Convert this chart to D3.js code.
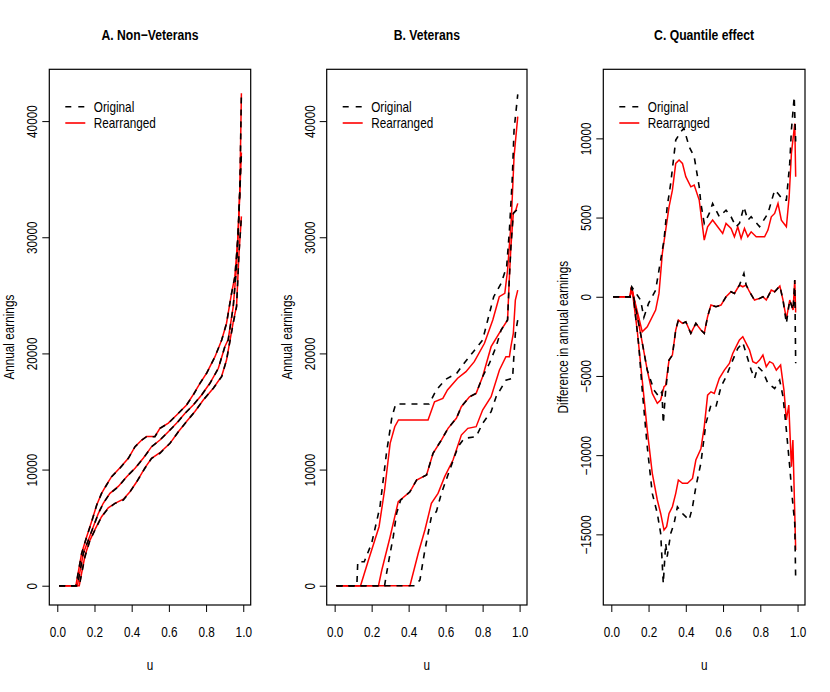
<!DOCTYPE html>
<html>
<head>
<meta charset="utf-8">
<script src="https://cdn.jsdelivr.net/npm/d3@7"></script>
<style>
  body { margin: 0; background: #fff; }
  text { font-family: "Liberation Sans", Arial, sans-serif; }
</style>
</head>
<body>
<div id="chart"></div>
<script>
// labels
const panelTitles = ["A. Non\u2212Veterans", "B. Veterans", "C. Quantile effect"];
const yLabels = ["Annual earnings", "Annual earnings", "Difference in annual earnings"];
const seriesNames = ["Original", "Rearranged"];
const uTicks = [0, 0.2, 0.4, 0.6, 0.8, 1.0];
const earnTicks = [0, 10000, 20000, 30000, 40000];
const effectTicks = [-15000, -10000, -5000, 0, 5000, 10000];

// A. non-veterans, [u, earnings] -- lower band, quantile curve, upper band
const nonvetOrigLow = [[0.01,0],[0.118,0],[0.149,2500],[0.176,3930],[0.203,4800],[0.238,5940],[0.274,6660],[0.31,7090],[0.355,7380],[0.391,8090],[0.427,8950],[0.471,10110],[0.507,10970],[0.552,11400],[0.606,12260],[0.651,13260],[0.695,14130],[0.74,14990],[0.785,15990],[0.839,17000],[0.884,18000],[0.91,19430],[0.946,22600],[0.964,24020],[0.977,28610],[0.99,31770]];
const nonvetOrigMid = [[0.01,0],[0.108,0],[0.14,2780],[0.167,3930],[0.194,5080],[0.221,6230],[0.247,7090],[0.283,7950],[0.328,8520],[0.373,9390],[0.418,10110],[0.463,10970],[0.507,11970],[0.552,12540],[0.597,13260],[0.642,13980],[0.687,14840],[0.731,15560],[0.776,16420],[0.821,17420],[0.866,18720],[0.901,20580],[0.919,21150],[0.946,24020],[0.964,27470],[0.979,32920],[0.99,37200]];
const nonvetOrigUp = [[0.01,0],[0.10,0],[0.131,2780],[0.158,4220],[0.185,5510],[0.212,6950],[0.238,7950],[0.265,8670],[0.292,9390],[0.337,10110],[0.382,10970],[0.418,11970],[0.454,12540],[0.48,12830],[0.525,12830],[0.552,13550],[0.597,13980],[0.642,14700],[0.695,15560],[0.731,16420],[0.767,17420],[0.803,18290],[0.848,19720],[0.884,21150],[0.91,22590],[0.937,25170],[0.955,26600],[0.973,30330],[0.982,34350],[0.99,42530]];
const nonvetRearLow = [[0.01,0],[0.118,0],[0.149,2600],[0.176,3930],[0.203,4850],[0.238,5940],[0.274,6700],[0.31,7090],[0.355,7450],[0.391,8090],[0.427,8950],[0.471,10150],[0.507,10970],[0.552,11450],[0.606,12260],[0.651,13260],[0.695,14130],[0.74,15000],[0.785,15990],[0.839,17000],[0.884,18050],[0.91,19430],[0.946,22700],[0.964,24100],[0.977,28610],[0.99,31800]];
const nonvetRearMid = [[0.01,0],[0.108,0],[0.14,2800],[0.167,3930],[0.194,5100],[0.221,6230],[0.247,7100],[0.283,7950],[0.328,8550],[0.373,9390],[0.418,10110],[0.463,11000],[0.507,11970],[0.552,12540],[0.597,13260],[0.642,14000],[0.687,14840],[0.731,15560],[0.776,16420],[0.821,17450],[0.866,18720],[0.901,20580],[0.919,21200],[0.946,24020],[0.964,27500],[0.979,32920],[0.99,37300]];
const nonvetRearUp = [[0.01,0],[0.10,0],[0.131,2800],[0.158,4220],[0.185,5550],[0.212,6950],[0.238,7950],[0.265,8700],[0.292,9390],[0.337,10150],[0.382,10970],[0.418,11970],[0.454,12540],[0.48,12850],[0.525,12850],[0.552,13550],[0.597,14000],[0.642,14700],[0.695,15560],[0.731,16450],[0.767,17420],[0.803,18300],[0.848,19720],[0.884,21150],[0.91,22600],[0.937,25170],[0.955,26650],[0.973,30330],[0.982,34400],[0.99,42400]];

// B. veterans
const vetOrigLow = [[0.01,0],[0.434,0],[0.461,490],[0.488,3080],[0.523,5940],[0.55,6380],[0.577,7950],[0.622,9960],[0.667,11960],[0.70,12680],[0.765,12830],[0.80,13980],[0.846,14980],[0.873,16270],[0.926,17700],[0.962,17860],[0.97,20010],[0.977,21720],[0.99,22880]];
const vetOrigMid = [[0.01,0],[0.27,0],[0.28,1000],[0.30,2790],[0.317,4220],[0.335,6230],[0.357,7380],[0.407,8090],[0.443,9100],[0.497,9530],[0.532,11400],[0.577,12540],[0.613,13550],[0.658,14410],[0.685,15410],[0.729,16270],[0.765,16560],[0.80,17990],[0.837,19150],[0.873,20580],[0.90,22010],[0.935,22880],[0.944,26320],[0.953,29190],[0.966,32060],[0.985,32350]];
const vetOrigUp = [[0.01,0],[0.12,0],[0.125,2070],[0.16,2070],[0.20,3650],[0.245,6800],[0.28,11400],[0.31,14550],[0.33,15640],[0.51,15640],[0.55,16850],[0.60,17770],[0.66,18290],[0.70,19150],[0.75,20150],[0.80,21150],[0.86,24880],[0.90,26030],[0.93,27470],[0.945,30620],[0.96,34930],[0.97,39230],[0.99,42300]];
const vetRearLow = [[0.01,0],[0.407,0],[0.452,2790],[0.488,4800],[0.523,7090],[0.559,7950],[0.595,9390],[0.64,10820],[0.685,12970],[0.72,13550],[0.765,13690],[0.80,15130],[0.846,16270],[0.891,18570],[0.926,19720],[0.945,19720],[0.953,20580],[0.966,21720],[0.977,24590],[0.99,25450]];
const vetRearMid = [[0.01,0],[0.237,0],[0.255,1350],[0.30,4220],[0.344,7240],[0.407,8090],[0.443,9100],[0.497,9530],[0.532,11400],[0.577,12540],[0.613,13550],[0.658,14410],[0.685,15410],[0.729,16270],[0.765,16560],[0.80,17990],[0.846,20580],[0.90,22010],[0.935,22880],[0.944,26320],[0.953,29190],[0.966,32060],[0.98,32350],[0.99,32920]];
const vetRearUp = [[0.01,0],[0.14,0],[0.18,2070],[0.24,5080],[0.27,8240],[0.30,12260],[0.325,13690],[0.345,14270],[0.505,14270],[0.54,15840],[0.585,16130],[0.61,16850],[0.665,17860],[0.71,18430],[0.755,19290],[0.81,20870],[0.855,22880],[0.89,24880],[0.92,25170],[0.935,27180],[0.955,31490],[0.97,36940],[0.99,40380]];

// C. quantile effect (veterans minus non-veterans)
const effOrigLow = [[0.01,0],[0.10,0],[0.121,-210],[0.148,-3150],[0.166,-5890],[0.193,-9470],[0.22,-12410],[0.247,-13680],[0.265,-14940],[0.279,-18100],[0.292,-15570],[0.30,-16410],[0.319,-14940],[0.337,-14310],[0.355,-13260],[0.382,-13680],[0.418,-14100],[0.436,-13260],[0.454,-12000],[0.481,-10500],[0.508,-7990],[0.535,-6840],[0.562,-6940],[0.589,-5680],[0.616,-5050],[0.652,-4000],[0.679,-3260],[0.706,-2900],[0.724,-3580],[0.751,-4630],[0.769,-5150],[0.787,-4420],[0.814,-4730],[0.841,-5470],[0.877,-5790],[0.904,-5260],[0.922,-6310],[0.94,-8420],[0.958,-10730],[0.971,-12620],[0.985,-14310],[0.99,-17890]];
const effOrigMid = [[0.01,0],[0.10,0],[0.11,600],[0.157,-2310],[0.193,-4630],[0.229,-5890],[0.256,-6310],[0.272,-6000],[0.279,-7990],[0.292,-5890],[0.31,-4000],[0.328,-3680],[0.346,-2100],[0.36,-1470],[0.382,-1680],[0.40,-1580],[0.427,-2310],[0.454,-1680],[0.481,-2100],[0.499,-2310],[0.517,-1260],[0.535,-525],[0.562,-630],[0.589,-525],[0.616,0],[0.643,317],[0.661,210],[0.688,740],[0.712,1470],[0.724,740],[0.742,317],[0.769,-210],[0.796,-105],[0.814,0],[0.832,-210],[0.859,420],[0.877,317],[0.905,680],[0.922,-210],[0.94,-1680],[0.958,-210],[0.976,-840],[0.985,1050],[0.99,-4200]];
const effOrigUp = [[0.01,0],[0.10,0],[0.11,630],[0.157,-210],[0.175,-1300],[0.20,-420],[0.238,420],[0.265,2320],[0.283,3580],[0.30,5680],[0.319,7160],[0.346,9890],[0.373,10420],[0.39,10630],[0.418,9470],[0.445,8840],[0.472,6940],[0.481,5890],[0.499,4630],[0.526,5260],[0.544,5890],[0.58,5050],[0.616,5470],[0.643,5050],[0.67,4420],[0.688,4630],[0.712,5680],[0.733,4840],[0.751,5050],[0.796,4420],[0.841,5260],[0.877,6730],[0.895,6520],[0.922,6100],[0.94,6100],[0.958,8420],[0.967,10520],[0.982,12620],[0.99,9800]];
const effRearLow = [[0.01,0],[0.10,0],[0.112,420],[0.139,-2100],[0.166,-5260],[0.193,-8420],[0.22,-11150],[0.247,-12830],[0.265,-13680],[0.283,-14730],[0.297,-14520],[0.31,-13680],[0.328,-13260],[0.346,-12410],[0.36,-11570],[0.382,-11780],[0.409,-11780],[0.436,-11470],[0.454,-10310],[0.481,-9600],[0.499,-8210],[0.517,-6210],[0.535,-6000],[0.553,-6100],[0.58,-5150],[0.607,-4630],[0.634,-4210],[0.652,-3580],[0.67,-3150],[0.688,-2730],[0.706,-2520],[0.724,-2940],[0.742,-3360],[0.76,-4100],[0.778,-4210],[0.796,-4000],[0.814,-3680],[0.832,-4420],[0.85,-4100],[0.868,-4210],[0.886,-4630],[0.909,-4310],[0.927,-5890],[0.94,-7780],[0.953,-6840],[0.967,-10730],[0.975,-9050],[0.985,-13680],[0.99,-15990]];
const effRearMid = [[0.01,0],[0.10,0],[0.11,600],[0.157,-2310],[0.193,-4630],[0.22,-6100],[0.247,-6730],[0.265,-6520],[0.283,-5680],[0.292,-5600],[0.31,-4000],[0.328,-3680],[0.346,-2100],[0.36,-1470],[0.382,-1680],[0.40,-1580],[0.427,-2310],[0.454,-1680],[0.481,-2100],[0.499,-2310],[0.517,-1260],[0.535,-525],[0.562,-630],[0.589,-525],[0.616,0],[0.643,317],[0.661,210],[0.688,740],[0.706,630],[0.724,740],[0.742,317],[0.769,-210],[0.796,-105],[0.814,0],[0.832,-210],[0.859,420],[0.877,317],[0.905,680],[0.922,-210],[0.94,-1400],[0.958,-210],[0.976,-840],[0.985,1050],[0.99,-1000]];
const effRearUp = [[0.01,0],[0.10,0],[0.107,630],[0.166,-2210],[0.193,-1900],[0.238,-840],[0.256,210],[0.274,2740],[0.31,5680],[0.328,6730],[0.346,8420],[0.364,8630],[0.382,8420],[0.40,7580],[0.427,6940],[0.445,7050],[0.472,6100],[0.499,3580],[0.517,4420],[0.544,4840],[0.571,4420],[0.598,4000],[0.616,4630],[0.643,4310],[0.661,3790],[0.679,4420],[0.697,3680],[0.715,4310],[0.733,3790],[0.751,4100],[0.778,3790],[0.823,3790],[0.841,4210],[0.859,5050],[0.877,5260],[0.895,5890],[0.913,4840],[0.94,4420],[0.955,6310],[0.967,9050],[0.985,10940],[0.99,7580]];

const width = 830, height = 692;
const plotTop = 69.3, plotBottom = 605;
const squeeze = "scale(0.84,1)"; // the reference uses a condensed face

const panels = [
  { x0: 49.3, x1: 250.7, yDomain: [-1660, 44460], yTicks: earnTicks,
    orig: [nonvetOrigLow, nonvetOrigMid, nonvetOrigUp], rear: [nonvetRearLow, nonvetRearMid, nonvetRearUp] },
  { x0: 326.7, x1: 527, yDomain: [-1660, 44460], yTicks: earnTicks,
    orig: [vetOrigLow, vetOrigMid, vetOrigUp], rear: [vetRearLow, vetRearMid, vetRearUp] },
  { x0: 603.3, x1: 805, yDomain: [-19460, 14360], yTicks: effectTicks,
    orig: [effOrigLow, effOrigMid, effOrigUp], rear: [effRearLow, effRearMid, effRearUp] }
];

const svg = d3.select("#chart").append("svg")
  .attr("width", width)
  .attr("height", height);

const fmt = d => d < 0 ? "\u2212" + Math.abs(d) : String(d);

panels.forEach((p, i) => {
  const x = d3.scaleLinear().domain([-0.043, 1.04]).range([p.x0, p.x1]);
  const y = d3.scaleLinear().domain(p.yDomain).range([plotBottom, plotTop]);
  const g = svg.append("g");

  const line = d3.line().x(d => x(d[0])).y(d => y(d[1]));

  // rearranged first, original dashes on top
  p.rear.forEach(c => g.append("path").datum(c)
    .attr("d", line).attr("fill", "none")
    .attr("stroke", "#ff0000").attr("stroke-width", 1.5));
  p.orig.forEach(c => g.append("path").datum(c)
    .attr("d", line).attr("fill", "none")
    .attr("stroke", "#000").attr("stroke-width", 1.6)
    .attr("stroke-dasharray", "6,6"));

  // x axis
  const xa = g.append("g")
    .attr("transform", `translate(0,${plotBottom})`)
    .call(d3.axisBottom(x).tickValues(uTicks).tickSize(7).tickPadding(15)
      .tickFormat(d3.format(".1f")));
  xa.select(".domain").remove();
  xa.selectAll("line").attr("stroke", "#000");
  xa.selectAll("text").style("font-size", "14px").attr("fill", "#000")
    .attr("transform", squeeze);

  // y axis, labels rotated like base R
  const ya = g.append("g")
    .attr("transform", `translate(${p.x0},0)`)
    .call(d3.axisLeft(y).tickValues(p.yTicks).tickSize(7).tickFormat(fmt));
  ya.select(".domain").remove();
  ya.selectAll("line").attr("stroke", "#000");
  ya.selectAll("text")
    .attr("x", 0).attr("y", -12).attr("dy", 0)
    .attr("transform", "rotate(-90) " + squeeze)
    .attr("text-anchor", "middle")
    .attr("fill", "#000")
    .style("font-size", "14px");

  // box
  g.append("rect")
    .attr("x", p.x0).attr("y", plotTop)
    .attr("width", p.x1 - p.x0).attr("height", plotBottom - plotTop)
    .attr("fill", "none").attr("stroke", "#000").attr("stroke-width", 1.2);

  const cx = (p.x0 + p.x1) / 2;
  // title
  g.append("text")
    .attr("transform", `translate(${cx},40) ${squeeze}`)
    .attr("text-anchor", "middle")
    .style("font-size", "14.5px").style("font-weight", "bold")
    .text(panelTitles[i]);

  // axis labels
  g.append("text")
    .attr("transform", `translate(${cx},670) ${squeeze}`)
    .attr("text-anchor", "middle")
    .style("font-size", "14px")
    .text("u");
  g.append("text")
    .attr("transform", `translate(${p.x0 - 35},${(plotTop + plotBottom) / 2}) rotate(-90) ${squeeze}`)
    .attr("text-anchor", "middle")
    .style("font-size", "14px")
    .text(yLabels[i]);

  // legend
  const lg = g.append("g").attr("transform", `translate(${p.x0},0)`);
  seriesNames.forEach((name, k) => {
    const ly = 106.7 + k * 16.3;
    lg.append("line")
      .attr("x1", 16).attr("x2", 36).attr("y1", ly).attr("y2", ly)
      .attr("stroke", k === 0 ? "#000" : "#ff0000")
      .attr("stroke-width", 1.6)
      .attr("stroke-dasharray", k === 0 ? "6,7" : null);
    lg.append("text")
      .attr("transform", `translate(44.5,${ly}) ${squeeze}`)
      .attr("dy", "0.35em")
      .style("font-size", "14px")
      .text(name);
  });
});
</script>
</body>
</html>
